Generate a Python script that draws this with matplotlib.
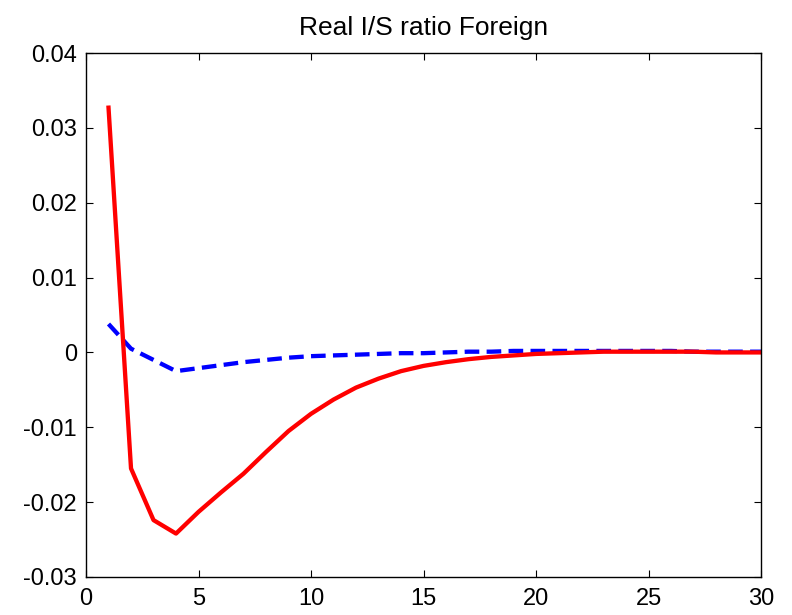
import numpy as np
import matplotlib
matplotlib.use("Agg")
import matplotlib.pyplot as plt

plt.rcParams["font.family"] = ["Liberation Sans", "DejaVu Sans"]

periods = list(range(1, 31))
red_resp = [0.0327, -0.0155, -0.0224, -0.0242, -0.0213, -0.0187, -0.0162, -0.0133,
            -0.0105, -0.0082, -0.0063, -0.0047, -0.0035, -0.0025, -0.0018, -0.0013,
            -0.0009, -0.0006, -0.0004, -0.0002, -0.0001, 0.0000, 0.0001, 0.0001,
            0.0001, 0.0001, 0.0001, 0.0000, 0.0000, 0.0000]
blue_resp = [0.0038, 0.0005, -0.0010, -0.0025, -0.0021, -0.0017, -0.0013, -0.0010,
             -0.0007, -0.0005, -0.0004, -0.0003, -0.0002, -0.0001, -0.0001, 0.0000,
             0.0001, 0.0001, 0.0002, 0.0002, 0.0002, 0.0002, 0.0002, 0.0002,
             0.0002, 0.0002, 0.0001, 0.0001, 0.0001, 0.0001]

xticks = [0, 5, 10, 15, 20, 25, 30]
yticks = [-0.03, -0.02, -0.01, 0, 0.01, 0.02, 0.03, 0.04]
yticklabels = ["-0.03", "-0.02", "-0.01", "0", "0.01", "0.02", "0.03", "0.04"]

fig = plt.figure(figsize=(7.92, 6.15), dpi=100)
ax = fig.add_axes([0.1086, 0.0618, 0.8523, 0.852])

# dashed blue under the solid red
ax.plot(periods, blue_resp, color="#0000ff", linestyle=(0, (3.4, 1.7)), linewidth=3.1)
ax.plot(periods, red_resp, color="#ff0000", linestyle="-", linewidth=3.1)

ax.set_xlim(0, 30)
ax.set_ylim(-0.03, 0.04)
ax.set_xticks(xticks)
ax.set_yticks(yticks)
ax.set_yticklabels(yticklabels)
ax.tick_params(direction="in", length=5, width=0.8, labelsize=17, top=True, right=True)
ax.tick_params(axis="x", pad=8)
ax.tick_params(axis="y", pad=6.5)
for sp in ax.spines.values():
    sp.set_linewidth(1.0)

ax.set_title("Real I/S ratio Foreign", fontsize=19, pad=13)

fig.savefig("out.png", dpi=100)
